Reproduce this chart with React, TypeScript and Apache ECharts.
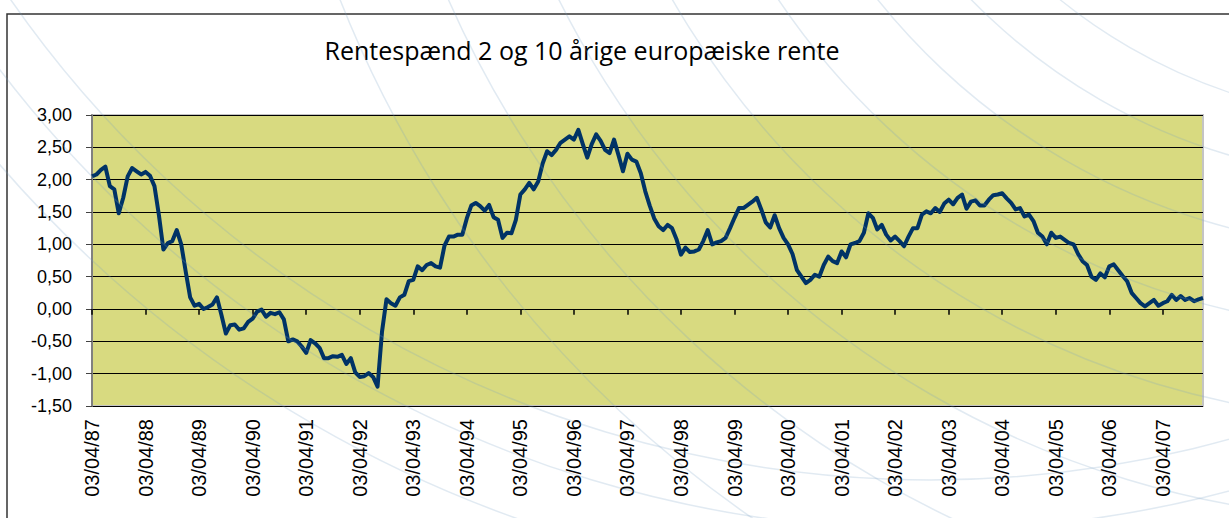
import React, { useEffect, useRef } from "react";
import * as echarts from "echarts";

// ---- Data (monthly readings, first value = April 1987) ----
const TITLE = "Rentespænd 2 og 10 årige europæiske rente";
const START_YEAR = 1987;
const START_MONTH = 4; // April
const LABEL_DAY = "03";

const y1987 = [2.05, 2.08, 2.15, 2.2, 1.9, 1.85, 1.48, 1.72, 2.05, 2.18, 2.13, 2.08];
const y1988 = [2.12, 2.06, 1.9, 1.45, 0.92, 1.02, 1.05, 1.22, 1.0, 0.58, 0.18, 0.05];
const y1989 = [0.08, 0.0, 0.03, 0.07, 0.18, -0.09, -0.38, -0.25, -0.24, -0.32, -0.3, -0.2];
const y1990 = [-0.15, -0.04, -0.01, -0.12, -0.06, -0.08, -0.05, -0.16, -0.5, -0.47, -0.5, -0.58];
const y1991 = [-0.68, -0.48, -0.53, -0.6, -0.76, -0.76, -0.73, -0.74, -0.71, -0.85, -0.76, -0.98];
const y1992 = [-1.05, -1.04, -0.99, -1.05, -1.2, -0.35, 0.15, 0.09, 0.05, 0.18, 0.22, 0.43];
const y1993 = [0.45, 0.66, 0.6, 0.68, 0.71, 0.66, 0.64, 0.98, 1.12, 1.12, 1.15, 1.15];
const y1994 = [1.4, 1.6, 1.64, 1.59, 1.52, 1.61, 1.42, 1.38, 1.1, 1.18, 1.17, 1.38];
const y1995 = [1.77, 1.85, 1.95, 1.85, 1.97, 2.25, 2.44, 2.38, 2.46, 2.57, 2.62, 2.67];
const y1996 = [2.62, 2.77, 2.55, 2.34, 2.55, 2.7, 2.6, 2.46, 2.41, 2.62, 2.38, 2.13];
const y1997 = [2.4, 2.31, 2.28, 2.1, 1.82, 1.6, 1.4, 1.28, 1.22, 1.3, 1.25, 1.08];
const y1998 = [0.84, 0.95, 0.88, 0.89, 0.92, 1.05, 1.22, 1.0, 1.03, 1.05, 1.1, 1.25];
const y1999 = [1.41, 1.56, 1.56, 1.61, 1.66, 1.72, 1.54, 1.34, 1.26, 1.45, 1.25, 1.1];
const y2000 = [1.0, 0.85, 0.6, 0.5, 0.4, 0.45, 0.53, 0.5, 0.68, 0.81, 0.74, 0.71];
const y2001 = [0.89, 0.8, 1.0, 1.02, 1.05, 1.18, 1.48, 1.41, 1.23, 1.3, 1.15, 1.06];
const y2002 = [1.12, 1.05, 0.97, 1.12, 1.25, 1.25, 1.46, 1.51, 1.48, 1.56, 1.5, 1.63];
const y2003 = [1.69, 1.62, 1.72, 1.77, 1.55, 1.66, 1.68, 1.6, 1.6, 1.69, 1.76, 1.77];
const y2004 = [1.79, 1.71, 1.64, 1.54, 1.56, 1.43, 1.46, 1.36, 1.18, 1.12, 1.0, 1.18];
const y2005 = [1.1, 1.12, 1.07, 1.02, 1.0, 0.85, 0.74, 0.68, 0.5, 0.45, 0.55, 0.49];
const y2006 = [0.66, 0.69, 0.6, 0.51, 0.43, 0.25, 0.17, 0.09, 0.04, 0.09, 0.14, 0.05];
const y2007 = [0.09, 0.12, 0.22, 0.14, 0.2, 0.14, 0.17, 0.12, 0.15, 0.17];

const spread = [
  ...y1987, ...y1988, ...y1989, ...y1990, ...y1991, ...y1992, ...y1993,
  ...y1994, ...y1995, ...y1996, ...y1997, ...y1998, ...y1999, ...y2000,
  ...y2001, ...y2002, ...y2003, ...y2004, ...y2005, ...y2006, ...y2007,
];

const dates = spread.map((_, i) => {
  const mi = START_MONTH - 1 + i;
  const yr = START_YEAR + Math.floor(mi / 12);
  const mo = (mi % 12) + 1;
  return `${LABEL_DAY}/${String(mo).padStart(2, "0")}/${String(yr % 100).padStart(2, "0")}`;
});

const Y_MIN = -1.5;
const Y_MAX = 3;
const Y_STEP = 0.5;
const LABEL_EVERY = 12;
const TICK_DEPTH = 0.09; // tick length below the zero line, in axis units

export default function App() {
  const ref = useRef<HTMLDivElement>(null);

  useEffect(() => {
    if (!ref.current) return;
    const chart = echarts.init(ref.current, undefined, { renderer: "svg" });

    const arcStroke = "rgba(120,160,195,0.22)";
    const arcsA = [540, 600, 670, 750, 840, 940, 1040, 1140].map((r) => ({
      type: "circle",
      silent: true,
      z: 50,
      shape: { cx: 1400, cy: -420, r },
      style: { fill: "none", stroke: arcStroke, lineWidth: 1.5 },
    }));
    const arcsB = [1120, 1170, 1230].map((r) => ({
      type: "circle",
      silent: true,
      z: 50,
      shape: { cx: 930, cy: -640, r },
      style: { fill: "none", stroke: arcStroke, lineWidth: 1.5 },
    }));
    const frame = {
      type: "rect",
      silent: true,
      z: -1,
      shape: { x: 7, y: 14, width: 1300, height: 600 },
      style: { fill: "none", stroke: "#333", lineWidth: 1.5 },
    };

    // year ticks hanging below the zero line
    const yearTicks = dates
      .map((d, i) => i)
      .filter((i) => i % LABEL_EVERY === 0)
      .map((i) => [{ coord: [i, 0] }, { coord: [i, -TICK_DEPTH] }]);

    chart.setOption({
      animation: false,
      backgroundColor: "#ffffff",
      title: {
        text: TITLE,
        left: 577,
        textAlign: "center",
        top: 32,
        textStyle: {
          fontFamily: "Open Sans",
          fontSize: 25,
          fontWeight: "normal",
          color: "#000",
        },
      },
      graphic: [frame, ...arcsA, ...arcsB],
      grid: {
        left: 92,
        right: 26,
        top: 115,
        bottom: 112,
        show: true,
        backgroundColor: "#d8da80",
        borderColor: "#c4c4c4",
        borderWidth: 2,
      },
      xAxis: {
        type: "category",
        data: dates,
        boundaryGap: false,
        position: "bottom",
        axisLine: { show: false, onZero: false },
        axisTick: { show: false },
        splitLine: { show: false },
        axisLabel: {
          interval: LABEL_EVERY - 1,
          rotate: 90,
          margin: 13,
          fontFamily: "Liberation Sans",
          fontSize: 20,
          color: "#000",
          hideOverlap: false,
        },
      },
      yAxis: {
        type: "value",
        min: Y_MIN,
        max: Y_MAX,
        interval: Y_STEP,
        axisLine: { show: true, lineStyle: { color: "#808080", width: 2 } },
        axisTick: { show: true, length: 6, lineStyle: { color: "#444", width: 1 } },
        splitLine: { show: true, lineStyle: { color: "#000", width: 1 } },
        axisLabel: {
          margin: 20,
          fontFamily: "Liberation Sans",
          fontSize: 18,
          color: "#000",
          formatter: (v: number) => v.toFixed(2).replace(".", ","),
        },
      },
      series: [
        {
          type: "line",
          data: spread,
          showSymbol: false,
          symbol: "none",
          lineStyle: { color: "#003366", width: 4, join: "round" },
          z: 3,
          markLine: {
            silent: true,
            symbol: ["none", "none"],
            label: { show: false },
            emphasis: { disabled: true },
            lineStyle: { color: "#000", width: 1.5, type: "solid", opacity: 1 },
            data: yearTicks,
            z: 5,
          },
        },
      ],
    });

    return () => chart.dispose();
  }, []);

  return (
    <div
      ref={ref}
      style={{ position: "absolute", left: 0, top: 0, width: 1229, height: 518 }}
    />
  );
}
